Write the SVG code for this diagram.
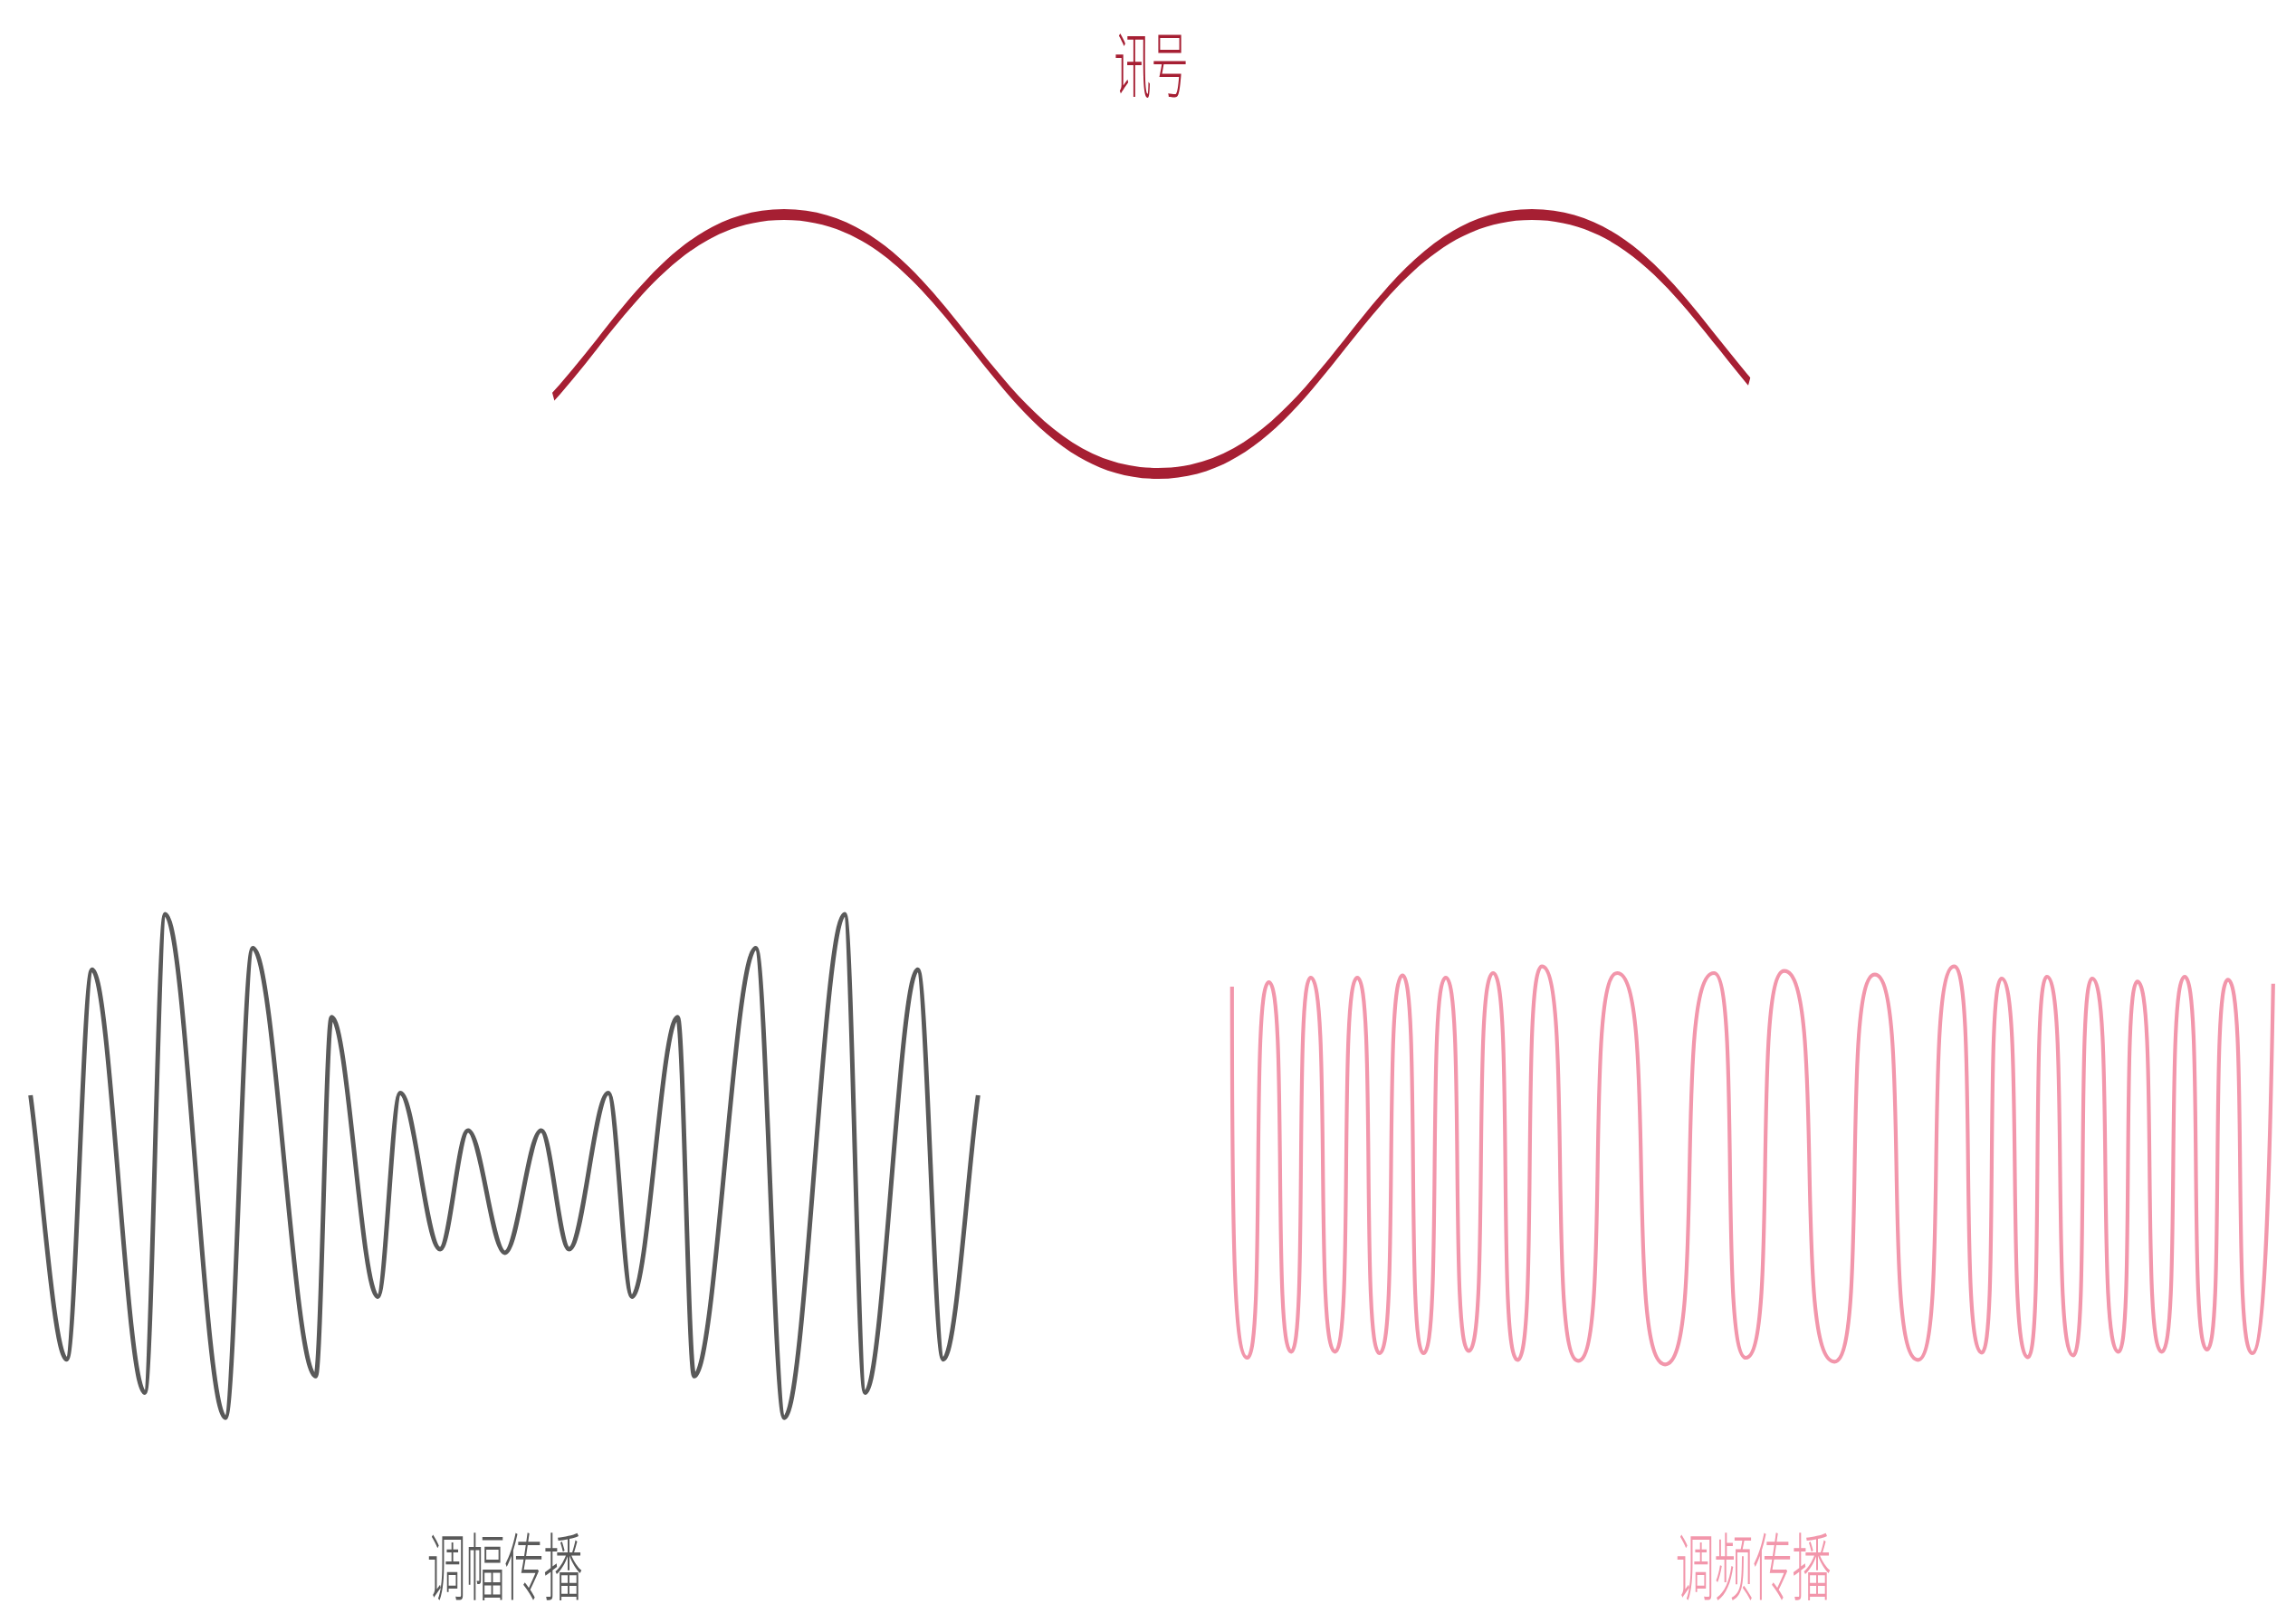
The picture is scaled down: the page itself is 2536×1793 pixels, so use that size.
<svg xmlns="http://www.w3.org/2000/svg" width="2536" height="1793" viewBox="0 0 2536 1793">
  <style>
    .lbl { font-family: "Noto Sans CJK SC", "Noto Sans", sans-serif; font-weight: 300; text-anchor: middle; }
    .wave { fill: none; stroke-linejoin: round; stroke-linecap: butt; }
  </style>
  <defs>
    <clipPath id="sigClip">
      <path d="M604.9,150 L1939.3,150 L1939.3,395 L1925.8,445 L1925.8,600 L618.4,600 L618.4,465 L604.9,415 Z"/>
    </clipPath>
  </defs>
  <rect width="2536" height="1793" fill="#ffffff"/>

  <g id="signal">
    <text class="lbl" font-size="79" fill="#A61F33" transform="translate(1271.5,101.5) scale(0.52,1)">讯号</text>
    <path clip-path="url(#sigClip)" fill="#A61F33" d="M453,517 c93,0 149.75,-71.25 206.5,-142.5 c56.75,-71.75 113.5,-143.5 206.5,-143.5 c93,0 149.75,71.75 206.5,143.5 c56.75,71.25 113.5,142.5 206.5,142.5 c93,0 149.75,-71.25 206.5,-142.5 c56.75,-71.75 113.5,-143.5 206.5,-143.5 c93,0 149.75,71.75 206.5,143.5 c56.75,71.25 113.5,142.5 206.5,142.5 L2105,529 c-93,0 -149.75,-71.75 -206.5,-143.5 c-56.75,-71.25 -113.5,-142.5 -206.5,-142.5 c-93,0 -149.75,71.25 -206.5,142.5 c-56.75,71.75 -113.5,143.5 -206.5,143.5 c-93,0 -149.75,-71.75 -206.5,-143.5 c-56.75,-71.25 -113.5,-142.5 -206.5,-142.5 c-93,0 -149.75,71.25 -206.5,142.5 c-56.75,71.75 -113.5,143.5 -206.5,143.5 Z"/>
  </g>

  <g id="am">
    <path class="wave" stroke="#595959" stroke-width="5" d="M33.7,1210 C45.7,1298 59.7,1501.7 73.7,1501.7 C83.5,1501.7 91.9,1071.2 101.7,1071.2 C122.1,1071.2 139.6,1538.5 160,1538.5 C167.8,1538.5 174.6,1009.9 182.4,1009.9 C205.7,1009.9 225.7,1566.2 249,1566.2 C259.6,1566.2 268.6,1047.4 279.2,1047.4 C303.5,1047.4 324.4,1520.3 348.7,1520.3 C354.8,1520.3 360.1,1123.8 366.2,1123.8 C384.1,1123.8 399.5,1432.5 417.4,1432.5 C426,1432.5 433.4,1207.6 442,1207.6 C457.4,1207.6 470.7,1379.9 486.1,1379.9 C496.9,1379.9 506.2,1249.1 517,1249.1 C531.2,1249.1 543.5,1383.9 557.7,1383.9 C571.7,1383.9 583.7,1249.1 597.7,1249.1 C608.5,1249.1 617.8,1379.9 628.6,1379.9 C643.8,1379.9 656.8,1207.6 672,1207.6 C681.1,1207.6 688.9,1432.5 698,1432.5 C715.7,1432.5 730.8,1123.8 748.5,1123.8 C754.9,1123.8 760.3,1520.3 766.7,1520.3 C790.5,1520.3 811,1047.4 834.8,1047.4 C845.8,1047.4 855.3,1566.2 866.3,1566.2 C889.6,1566.2 909.7,1009.9 933,1009.9 C940.9,1009.9 947.6,1538.5 955.5,1538.5 C975.9,1538.5 993.3,1071.2 1013.7,1071.2 C1023.5,1071.2 1032,1501.7 1041.8,1501.7 C1055.8,1501.7 1068.3,1298 1080.3,1210"/>
    <text class="lbl" font-size="81" fill="#595959" transform="translate(557.5,1761) scale(0.53,1)">调幅传播</text>
  </g>

  <g id="fm">
    <path class="wave" stroke="#F296AB" stroke-width="4.2" d="M1360.8,1090 C1360.8,1380 1363.5,1500 1377.7,1500 C1397.9,1500 1381.3,1085 1401.5,1085 C1422.5,1085 1405.2,1493.3 1426.2,1493.3 C1444.5,1493.3 1429.4,1080 1447.7,1080 C1470.6,1080 1451.7,1493.3 1474.6,1493.3 C1495.5,1493.3 1478.3,1080 1499.2,1080 C1520.1,1080 1502.9,1495 1523.8,1495 C1545.4,1495 1527.6,1077.7 1549.2,1077.7 C1568.8,1077.7 1552.7,1495 1572.3,1495 C1593.2,1495 1576,1080 1596.9,1080 C1618.5,1080 1600.7,1492.3 1622.3,1492.3 C1645.2,1492.3 1626.3,1075 1649.2,1075 C1672.2,1075 1653.2,1502.3 1676.2,1502.3 C1699.1,1502.3 1680.2,1067.7 1703.1,1067.7 C1737.1,1067.7 1709.1,1503.3 1743.1,1503.3 C1779.7,1503.3 1749.6,1075 1786.2,1075 C1831.2,1075 1794.2,1507.3 1839.2,1507.3 C1885,1507.3 1847.3,1075 1893.1,1075 C1923.2,1075 1898.4,1500 1928.5,1500 C1964.5,1500 1934.8,1072.7 1970.8,1072.7 C2017.9,1072.7 1979.1,1504.3 2026.2,1504.3 C2064.1,1504.3 2032.9,1076.7 2070.8,1076.7 C2111.3,1076.7 2078,1502.3 2118.5,1502.3 C2152.5,1502.3 2124.5,1067.7 2158.5,1067.7 C2184.4,1067.7 2163.1,1494.3 2189,1494.3 C2207.5,1494.3 2192.3,1081 2210.8,1081 C2235.6,1081 2215.2,1499.3 2240,1499.3 C2257.7,1499.3 2243.1,1079 2260.8,1079 C2285.6,1079 2265.2,1497.3 2290,1497.3 C2307.7,1497.3 2293.1,1081 2310.8,1081 C2335.6,1081 2315.2,1493.3 2340,1493.3 C2357.7,1493.3 2343.1,1084.4 2360.8,1084.4 C2383.7,1084.4 2364.8,1493.3 2387.7,1493.3 C2409.3,1493.3 2391.5,1079 2413.1,1079 C2434,1079 2416.8,1491 2437.7,1491 C2457.3,1491 2441.2,1082.4 2460.8,1082.4 C2483.7,1082.4 2464.8,1495 2487.7,1495 C2501.7,1495 2507,1300 2510.8,1086.7"/>
    <text class="lbl" font-size="81" fill="#F296AB" transform="translate(1936.5,1761) scale(0.53,1)">调频传播</text>
  </g>
</svg>
